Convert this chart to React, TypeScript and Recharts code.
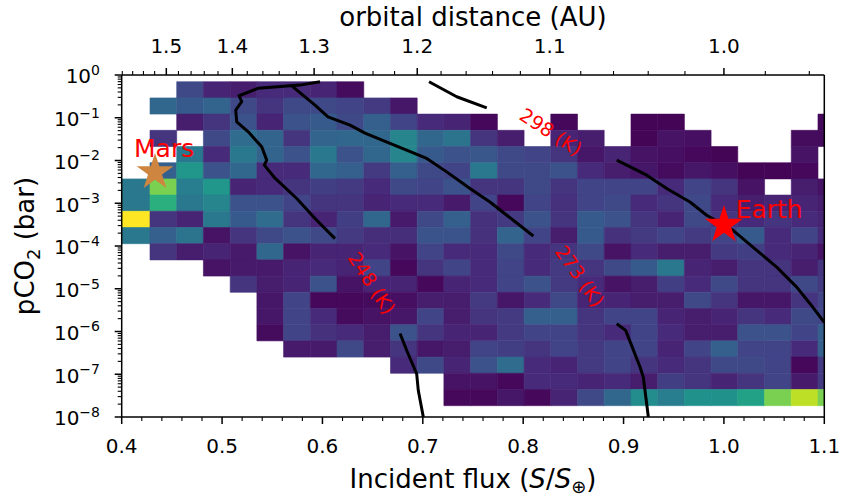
import React from 'react';
import { ScatterChart, Scatter, XAxis, YAxis, ReferenceArea, ReferenceLine, Symbols } from 'recharts';

const FONT = '"DejaVu Sans", sans-serif';
const _ = null;

// Incident flux bin edges (S/S_earth)
const fluxEdges = [0.4, 0.4282, 0.4548, 0.4814, 0.5081, 0.5347, 0.5613, 0.5879, 0.6145, 0.6412, 0.6678, 0.6944, 0.721, 0.7476, 0.7743, 0.8009, 0.8275, 0.8541, 0.8807, 0.9074, 0.934, 0.9606, 0.9872, 1.0138, 1.0405, 1.0671, 1.0937, 1.1];
// log10 pCO2 bin edges, top to bottom
const logPco2Edges = [-0.157, -0.536, -0.915, -1.294, -1.673, -2.052, -2.43, -2.809, -3.188, -3.567, -3.946, -4.325, -4.704, -5.083, -5.462, -5.841, -6.219, -6.598, -6.977, -7.356, -7.735];

// normalised density per cell (row 0 = highest pCO2), null = empty
const density: (number | null)[][] = [
  [_, _, .22, .1, .08, .12, .12, .1, .03, _, _, _, _, _, _, _, _, _, _, _, _, _, _, _, _, _, _],
  [_, .33, .28, .32, .22, .15, .22, .22, .2, .17, .06, _, _, _, _, _, _, _, _, _, _, _, _, _, _, _, _],
  [_, _, .08, .15, .25, .1, .25, .28, .22, .3, .2, .12, .1, .02, _, _, .02, _, _, .01, .01, _, _, _, _, _, .02],
  [_, .15, _, .22, .35, .32, .15, .32, .33, .33, .45, .33, .38, .15, .08, _, .1, .08, _, .01, .05, .04, _, _, _, .03, .03],
  [_, _, .4, .12, .4, .32, .25, .4, .25, .33, .45, .28, .25, .27, .22, .2, .15, .06, .1, .05, .04, .02, .01, _, _, .05, _],
  [_, .3, .52, .25, .33, .12, .12, .33, .3, .17, .3, .22, .2, .4, .22, .22, .25, .12, .08, .06, .03, .06, .04, .01, .01, .02, _],
  [.4, .8, .42, .52, .1, .12, .15, .18, .17, .12, .22, .2, .25, .15, .15, .22, .15, .2, .2, .2, .12, .2, .15, .05, _, .08, .05],
  [.4, .63, .4, .45, .25, .25, .2, .15, .15, .1, .12, .12, .07, .2, .02, .2, .14, .2, .22, .12, .15, .22, .12, .08, .1, .1, .08],
  [1.0, .15, .1, .4, .28, .35, .15, .1, .18, .33, .07, .22, .3, .14, .17, .25, .15, .28, .25, .15, .1, .22, .15, .12, .15, .12, .1],
  [.4, .3, .38, .05, .15, .22, .25, .22, .17, .13, .13, .26, .26, .14, .32, .2, .08, .28, .14, .17, .2, .17, .2, .28, .12, .2, .12],
  [_, .15, .08, .1, .07, .33, .05, .1, .1, .12, .05, .2, .12, .12, .22, .12, .15, .22, .05, .12, .08, .08, .17, .18, .12, .1, .05],
  [_, _, _, .05, .07, .07, .1, .12, .1, .2, .02, .15, .2, .12, .2, .12, .17, .15, .22, .28, .4, .1, .08, .15, .15, .08, .15],
  [_, _, _, _, .15, .08, .1, .25, .05, .1, .1, .02, .1, .12, .2, .25, .17, .12, .05, .08, .18, .12, .22, .15, .15, .22, .17],
  [_, _, _, _, _, .06, .2, .02, .02, .03, .04, .08, .08, .17, .06, .12, .22, .1, .1, .08, .08, .22, .15, .06, .06, .15, .2],
  [_, _, _, _, _, .06, .2, .12, .03, .05, .06, .2, .08, .15, .17, .3, .3, .15, .2, .2, .1, .08, .1, .15, .12, .22, .2],
  [_, _, _, _, _, .03, .2, .14, .12, .08, .25, .15, .1, .1, .17, .2, .2, .15, .12, .2, .12, .08, .08, .25, .25, .2, .3],
  [_, _, _, _, _, _, .07, .07, .22, .08, .15, .06, .08, .2, .18, .15, .2, .17, .2, .2, .1, .2, .3, .2, .2, .12, .3],
  [_, _, _, _, _, _, _, _, _, _, .12, .22, .1, .25, .35, .12, .1, .17, .2, .15, .12, .15, .22, .22, .2, .02, .17],
  [_, _, _, _, _, _, _, _, _, _, _, _, .05, .05, .02, .12, .12, .1, .12, .08, .18, .15, .1, .15, .2, .07, .17],
  [_, _, _, _, _, _, _, _, _, _, _, _, .02, .02, .06, .02, .1, .22, .33, .48, .42, .5, .5, .57, .8, .9, .8],
];

// contour lines (flux, pCO2)
const contour248Upper = [
  { x: 0.5976, y: 0.697 }, { x: 0.5776, y: 0.58 }, { x: 0.5358, y: 0.488 }, { x: 0.5169, y: 0.327 },
  { x: 0.5196, y: 0.237 }, { x: 0.5136, y: 0.151 }, { x: 0.5146, y: 0.0805 }, { x: 0.5261, y: 0.0469 },
  { x: 0.5395, y: 0.0209 }, { x: 0.5445, y: 0.0102 }, { x: 0.5421, y: 0.00778 }, { x: 0.5527, y: 0.00385 },
  { x: 0.5744, y: 0.00129 }, { x: 0.5926, y: 4.39e-4 }, { x: 0.6125, y: 1.49e-4 },
];
const contour248Lower = [
  { x: 0.6773, y: 9.0e-7 }, { x: 0.684, y: 3.59e-7 }, { x: 0.6939, y: 1.02e-7 }, { x: 0.6955, y: 4.15e-8 }, { x: 0.7005, y: 1e-8 },
];
const contour273Upper = [
  { x: 0.5697, y: 0.552 }, { x: 0.5926, y: 0.198 }, { x: 0.6055, y: 0.105 }, { x: 0.6275, y: 0.0673 },
  { x: 0.6424, y: 0.0437 }, { x: 0.6673, y: 0.0251 }, { x: 0.7039, y: 0.0112 }, { x: 0.7238, y: 0.00542 },
  { x: 0.747, y: 0.00221 }, { x: 0.7669, y: 0.00107 }, { x: 0.8101, y: 1.71e-4 },
];
const contour273Lower = [
  { x: 0.8932, y: 1.52e-6 }, { x: 0.9021, y: 1.06e-6 }, { x: 0.9165, y: 1.46e-7 }, { x: 0.9197, y: 8.5e-8 }, { x: 0.9247, y: 1e-8 },
];
const contour298Upper = [
  { x: 0.7062, y: 0.697 }, { x: 0.7338, y: 0.31 }, { x: 0.7637, y: 0.171 },
];
const contour298Lower = [
  { x: 0.8932, y: 0.0102 }, { x: 0.9231, y: 0.00453 }, { x: 0.943, y: 0.00221 }, { x: 0.9662, y: 0.00107 },
  { x: 0.9828, y: 5.24e-4 }, { x: 1.0091, y: 2.33e-4 }, { x: 1.0327, y: 7.93e-5 }, { x: 1.0526, y: 3.21e-5 },
  { x: 1.0725, y: 1.09e-5 }, { x: 1.0858, y: 4.47e-6 }, { x: 1.1, y: 1.63e-6 },
];

const contourLabels = [
  { x: 0.8277, y: 0.0472, text: '298 (K)' },
  { x: 0.6494, y: 1.36e-5, text: '248 (K)' },
  { x: 0.8566, y: 1.99e-5, text: '273 (K)' },
];
const contourLabelAngles = [33, 57, 55];

const marsPoint = [{ x: 0.4332, y: 5.3e-3 }];
const earthPoint = [{ x: 1.0, y: 3.1e-4 }];
const marsLabel = [{ x: 0.4123, y: 0.01227, text: 'Mars' }];
const earthLabel = [{ x: 1.0117, y: 4.52e-4, text: 'Earth' }];

const fluxDomain = [0.4, 1.1];
const fluxMajorTicks = [0.4, 0.5, 0.6, 0.7, 0.8, 0.9, 1.0, 1.1];
const fluxMinorTicks = [0.42, 0.44, 0.46, 0.48, 0.52, 0.54, 0.56, 0.58, 0.62, 0.64, 0.66, 0.68, 0.72, 0.74, 0.76, 0.78, 0.82, 0.84, 0.86, 0.88, 0.92, 0.94, 0.96, 0.98, 1.02, 1.04, 1.06, 1.08];
const distanceMajorTicks = [1.5, 1.4, 1.3, 1.2, 1.1, 1.0];
const distanceMinorTicks = [1.58, 1.56, 1.54, 1.52, 1.48, 1.46, 1.44, 1.42, 1.38, 1.36, 1.34, 1.32, 1.28, 1.26, 1.24, 1.22, 1.18, 1.16, 1.14, 1.12, 1.08, 1.06, 1.04, 1.02, 0.98, 0.96];
const pco2MajorExponents = [0, -1, -2, -3, -4, -5, -6, -7, -8];
const pco2MinorMultipliers = [2, 3, 4, 5, 6, 7, 8, 9];

const bottomTicks = [...fluxMajorTicks, ...fluxMinorTicks];
const topTicks = [...distanceMajorTicks, ...distanceMinorTicks].map((d) => 1 / (d * d));
const yTicks: number[] = [];
pco2MajorExponents.forEach((e) => {
  yTicks.push(Math.pow(10, e));
  if (e < 0) pco2MinorMultipliers.forEach((m) => yTicks.push(m * Math.pow(10, e)));
});
// anchors the top (orbital distance) axis to the same flux range
const topAxisAnchor = [{ x: fluxDomain[0], y: 1 }, { x: fluxDomain[1], y: 1 }];

const VIRIDIS = [
  [68, 1, 84], [72, 36, 117], [65, 68, 135], [53, 95, 141], [42, 120, 142], [33, 145, 140],
  [34, 168, 132], [68, 191, 112], [122, 209, 81], [189, 223, 38], [253, 231, 37],
];
function viridis(t: number) {
  const v = Math.max(0, Math.min(1, t)) * 10;
  const i = Math.min(9, Math.floor(v));
  const f = v - i;
  const a = VIRIDIS[i], b = VIRIDIS[i + 1];
  const c = a.map((ch, k) => Math.round(ch + (b[k] - ch) * f));
  return `rgb(${c[0]},${c[1]},${c[2]})`;
}

const MAJ = 7;
const MIN = 4;

const BottomTick = (props: any) => {
  const { x, y, payload } = props;
  const v = payload.value;
  const major = Math.abs(v * 10 - Math.round(v * 10)) < 1e-6;
  return (
    <g>
      <line x1={x} y1={y} x2={x} y2={y + (major ? MAJ : MIN)} stroke="#000" strokeWidth={major ? 1.5 : 1.1} />
      {major && (
        <text x={x} y={y + 35.7} textAnchor="middle" fontSize={20} fontFamily={FONT} fill="#000">
          {v.toFixed(1)}
        </text>
      )}
    </g>
  );
};

const TopTick = (props: any) => {
  const { x, y, payload } = props;
  const d = 1 / Math.sqrt(payload.value);
  const major = Math.abs(d * 10 - Math.round(d * 10)) < 1e-6;
  return (
    <g>
      <line x1={x} y1={y} x2={x} y2={y - (major ? MAJ : MIN)} stroke="#000" strokeWidth={major ? 1.5 : 1.1} />
      {major && (
        <text x={x} y={y - 21.7} textAnchor="middle" fontSize={20} fontFamily={FONT} fill="#000">
          {d.toFixed(1)}
        </text>
      )}
    </g>
  );
};

const LeftTick = (props: any) => {
  const { x, y, payload } = props;
  const lg = Math.log10(payload.value);
  const major = Math.abs(lg - Math.round(lg)) < 1e-6;
  const e = Math.round(lg);
  return (
    <g>
      <line x1={x - (major ? MAJ : MIN)} y1={y} x2={x} y2={y} stroke="#000" strokeWidth={major ? 1.5 : 1.1} />
      {major && (
        <text x={x - 21.7} y={y + 8.3} textAnchor="end" fontSize={20} fontFamily={FONT} fill="#000">
          <tspan>10</tspan>
          <tspan fontSize={14} dy={-8.5}>{e === 0 ? '0' : '\u2212' + Math.abs(e)}</tspan>
        </text>
      )}
    </g>
  );
};

const emptyShape = () => <g />;

const contourLine = { stroke: '#000', strokeWidth: 3, strokeLinejoin: 'round', strokeLinecap: 'butt' } as any;

export default function App() {
  const cells: React.ReactNode[] = [];
  density.forEach((row, r) => {
    row.forEach((val, c) => {
      if (val === null || val === undefined) return;
      const col = viridis(val);
      cells.push(
        <ReferenceArea
          key={`c${r}-${c}`}
          x1={fluxEdges[c]}
          x2={fluxEdges[c + 1]}
          y1={Math.pow(10, logPco2Edges[r + 1])}
          y2={Math.pow(10, logPco2Edges[r])}
          fill={col}
          fillOpacity={1}
          stroke={col}
          strokeWidth={0.6}
          ifOverflow="hidden"
        />
      );
    });
  });

  return (
    <div style={{ position: 'absolute', left: 0, top: 0, width: 842, height: 497, background: '#fff' }}>
      <ScatterChart width={842} height={497} margin={{ top: 25, right: 17.7, bottom: 20, left: 21.7 }}>
        {cells}
        <XAxis
          type="number"
          dataKey="x"
          domain={fluxDomain}
          allowDataOverflow
          ticks={bottomTicks}
          interval={0}
          tickSize={0}
          tickMargin={0}
          tickLine={false}
          tick={(p: any) => <BottomTick {...p} />}
          axisLine={{ stroke: '#000', strokeWidth: 1.5 }}
          height={60}
          label={(p: any) => {
            const vb = p.viewBox;
            return (
              <text x={vb.x + vb.width / 2} y={vb.y + 71} textAnchor="middle" fontSize={26} fontFamily={FONT} fill="#000">
                Incident flux (<tspan fontStyle="italic">S</tspan>/<tspan fontStyle="italic">S</tspan>
                <tspan fontSize={18} dy={5}>{'\u2295'}</tspan>
                <tspan dy={-5}>)</tspan>
              </text>
            );
          }}
        />
        <XAxis
          xAxisId="top"
          orientation="top"
          type="number"
          dataKey="x"
          domain={fluxDomain}
          allowDataOverflow
          ticks={topTicks}
          interval={0}
          tickSize={0}
          tickMargin={0}
          tickLine={false}
          tick={(p: any) => <TopTick {...p} />}
          axisLine={{ stroke: '#000', strokeWidth: 1.5 }}
          height={50}
          label={(p: any) => {
            const vb = p.viewBox;
            return (
              <text x={vb.x + vb.width / 2} y={vb.y + 1} textAnchor="middle" fontSize={26} fontFamily={FONT} fill="#000">
                orbital distance (AU)
              </text>
            );
          }}
        />
        <YAxis
          type="number"
          dataKey="y"
          scale="log"
          domain={[1e-8, 1]}
          allowDataOverflow
          ticks={yTicks}
          interval={0}
          tickSize={0}
          tickMargin={0}
          tickLine={false}
          tick={(p: any) => <LeftTick {...p} />}
          axisLine={{ stroke: '#000', strokeWidth: 1.5 }}
          width={100}
          label={(p: any) => {
            const vb = p.viewBox;
            const lx = vb.x + 11.8;
            const ly = vb.y + vb.height / 2;
            return (
              <text x={lx} y={ly} transform={`rotate(-90, ${lx}, ${ly})`} textAnchor="middle" fontSize={26} fontFamily={FONT} fill="#000">
                pCO<tspan fontSize={18} dy={6}>2</tspan>
                <tspan dy={-6}> (bar)</tspan>
              </text>
            );
          }}
        />
        <ReferenceLine x={1.1} stroke="#000" strokeWidth={1.5} />
        <Scatter xAxisId="top" data={topAxisAnchor} shape={emptyShape} isAnimationActive={false} />
        <Scatter data={contour248Upper} line={contourLine} shape={emptyShape} isAnimationActive={false} />
        <Scatter data={contour248Lower} line={contourLine} shape={emptyShape} isAnimationActive={false} />
        <Scatter data={contour273Upper} line={contourLine} shape={emptyShape} isAnimationActive={false} />
        <Scatter data={contour273Lower} line={contourLine} shape={emptyShape} isAnimationActive={false} />
        <Scatter data={contour298Upper} line={contourLine} shape={emptyShape} isAnimationActive={false} />
        <Scatter data={contour298Lower} line={contourLine} shape={emptyShape} isAnimationActive={false} />
        {contourLabels.map((lbl, i) => (
          <Scatter
            key={lbl.text}
            data={[lbl]}
            isAnimationActive={false}
            shape={(p: any) => (
              <text
                x={p.cx}
                y={p.cy}
                transform={`rotate(${contourLabelAngles[i]}, ${p.cx}, ${p.cy})`}
                textAnchor="middle"
                dominantBaseline="central"
                fontSize={19}
                fontFamily={FONT}
                fill="#ff0000"
              >
                {lbl.text}
              </text>
            )}
          />
        ))}
        <Scatter
          data={marsPoint}
          isAnimationActive={false}
          shape={(p: any) => <Symbols cx={p.cx} cy={p.cy} type="star" size={420} fill="#CD853F" />}
        />
        <Scatter
          data={earthPoint}
          isAnimationActive={false}
          shape={(p: any) => <Symbols cx={p.cx} cy={p.cy} type="star" size={450} fill="#ff0000" />}
        />
        <Scatter
          data={marsLabel}
          isAnimationActive={false}
          shape={(p: any) => (
            <text x={p.cx} y={p.cy} textAnchor="start" fontSize={25} fontFamily={FONT} fill="#ff0000">
              {marsLabel[0].text}
            </text>
          )}
        />
        <Scatter
          data={earthLabel}
          isAnimationActive={false}
          shape={(p: any) => (
            <text x={p.cx} y={p.cy} textAnchor="start" fontSize={25} fontFamily={FONT} fill="#ff0000">
              {earthLabel[0].text}
            </text>
          )}
        />
      </ScatterChart>
    </div>
  );
}
